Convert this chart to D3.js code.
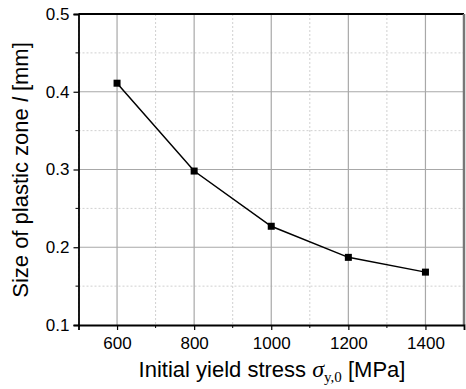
<!DOCTYPE html>
<html>
<head>
<meta charset="utf-8">
<script src="https://cdn.jsdelivr.net/npm/d3@7"></script>
<style>
body { margin: 0; background: #fff; }
text { font-family: "Liberation Sans", Arial, sans-serif; }
</style>
</head>
<body>
<div id="chart"></div>
<script>
var width = 466;
var height = 389;

// data
var stress = [600, 800, 1000, 1200, 1400];
var zoneSize = [0.411, 0.298, 0.227, 0.187, 0.168];
var xTicks = [600, 800, 1000, 1200, 1400];
var yTicks = [0.1, 0.2, 0.3, 0.4, 0.5];
var xMinor = [500, 700, 900, 1100, 1300, 1500];
var yMinor = [0.15, 0.25, 0.35, 0.45];

var padL = 78.5, padR = 464, padT = 14, padB = 325;

var svg = d3.select("#chart").append("svg")
  .attr("width", width)
  .attr("height", height);

var x = d3.scaleLinear().domain([500, 1500]).range([padL, padR]);
var y = d3.scaleLinear().domain([0.1, 0.5]).range([padB, padT]);

// minor grid (dotted)
svg.selectAll(".vminor").data(xMinor).enter().append("line")
  .attr("x1", d => x(d)).attr("x2", d => x(d))
  .attr("y1", padT).attr("y2", padB)
  .attr("stroke", "#d0d0d0").attr("stroke-dasharray", "2,2").attr("stroke-width", 1);
svg.selectAll(".hminor").data(yMinor).enter().append("line")
  .attr("y1", d => y(d)).attr("y2", d => y(d))
  .attr("x1", padL).attr("x2", padR)
  .attr("stroke", "#d0d0d0").attr("stroke-dasharray", "2,2").attr("stroke-width", 1);

// major grid
svg.selectAll(".vmajor").data(xTicks).enter().append("line")
  .attr("x1", d => x(d)).attr("x2", d => x(d))
  .attr("y1", padT).attr("y2", padB)
  .attr("stroke", "#a8a8a8").attr("stroke-width", 1.2);
svg.selectAll(".hmajor").data(yTicks.slice(1, 4)).enter().append("line")
  .attr("y1", d => y(d)).attr("y2", d => y(d))
  .attr("x1", padL).attr("x2", padR)
  .attr("stroke", "#a8a8a8").attr("stroke-width", 1.2);

// frame: top black, right gray
svg.append("line").attr("x1", padL).attr("x2", padR).attr("y1", padT).attr("y2", padT)
  .attr("stroke", "#000").attr("stroke-width", 1.8);
svg.append("line").attr("x1", padR).attr("x2", padR).attr("y1", padT).attr("y2", padB)
  .attr("stroke", "#777").attr("stroke-width", 2.5);

// axes
var xAxis = d3.axisBottom(x).tickValues(xTicks).tickSize(5).tickPadding(7).tickFormat(d3.format("d"));
var yAxis = d3.axisLeft(y).tickValues(yTicks).tickSize(5).tickPadding(4).tickFormat(d3.format(".1f"));

var gx = svg.append("g").attr("transform", "translate(0," + padB + ")").call(xAxis);
var gy = svg.append("g").attr("transform", "translate(" + padL + ",0)").call(yAxis);
[gx, gy].forEach(function(g) {
  g.select(".domain").attr("stroke", "#000").attr("stroke-width", 1.8);
  g.selectAll(".tick line").attr("stroke", "#000").attr("stroke-width", 1.2);
  g.selectAll(".tick text").attr("font-size", 17).attr("fill", "#000")
    .attr("font-family", "Liberation Sans, Arial, sans-serif");
});

// minor ticks
gx.selectAll(".mt").data(xMinor.slice(1, 5)).enter().append("line")
  .attr("x1", d => x(d)).attr("x2", d => x(d)).attr("y1", 0).attr("y2", 3)
  .attr("stroke", "#000").attr("stroke-width", 1);
gy.selectAll(".mt").data(yMinor).enter().append("line")
  .attr("y1", d => y(d)).attr("y2", d => y(d)).attr("x1", 0).attr("x2", -3)
  .attr("stroke", "#000").attr("stroke-width", 1);

// line + markers
var pts = stress.map((s, i) => [s, zoneSize[i]]);
svg.append("path").datum(pts)
  .attr("d", d3.line().x(d => x(d[0])).y(d => y(d[1])))
  .attr("fill", "none").attr("stroke", "#000").attr("stroke-width", 1.5);
svg.selectAll(".pt").data(pts).enter().append("rect")
  .attr("x", d => x(d[0]) - 3.5).attr("y", d => y(d[1]) - 3.5)
  .attr("width", 7).attr("height", 7).attr("fill", "#000");

// axis titles
var xt = svg.append("text").attr("x", 272).attr("y", 377)
  .attr("text-anchor", "middle").attr("font-size", 22).attr("fill", "#000");
xt.append("tspan").text("Initial yield stress ");
xt.append("tspan").text("σ").attr("font-family", "Liberation Serif, serif").attr("font-style", "italic").attr("font-size", 24);
xt.append("tspan").text("y,0").attr("font-family", "Liberation Serif, serif").attr("font-size", 15).attr("dy", 5);
xt.append("tspan").text(" [MPa]").attr("dy", -5);

var yt = svg.append("text").attr("transform", "translate(28,170) rotate(-90)")
  .attr("text-anchor", "middle").attr("font-size", 22).attr("fill", "#000");
yt.append("tspan").text("Size of plastic zone ");
yt.append("tspan").text("l").attr("font-style", "italic");
yt.append("tspan").text(" [mm]");
</script>
</body>
</html>
